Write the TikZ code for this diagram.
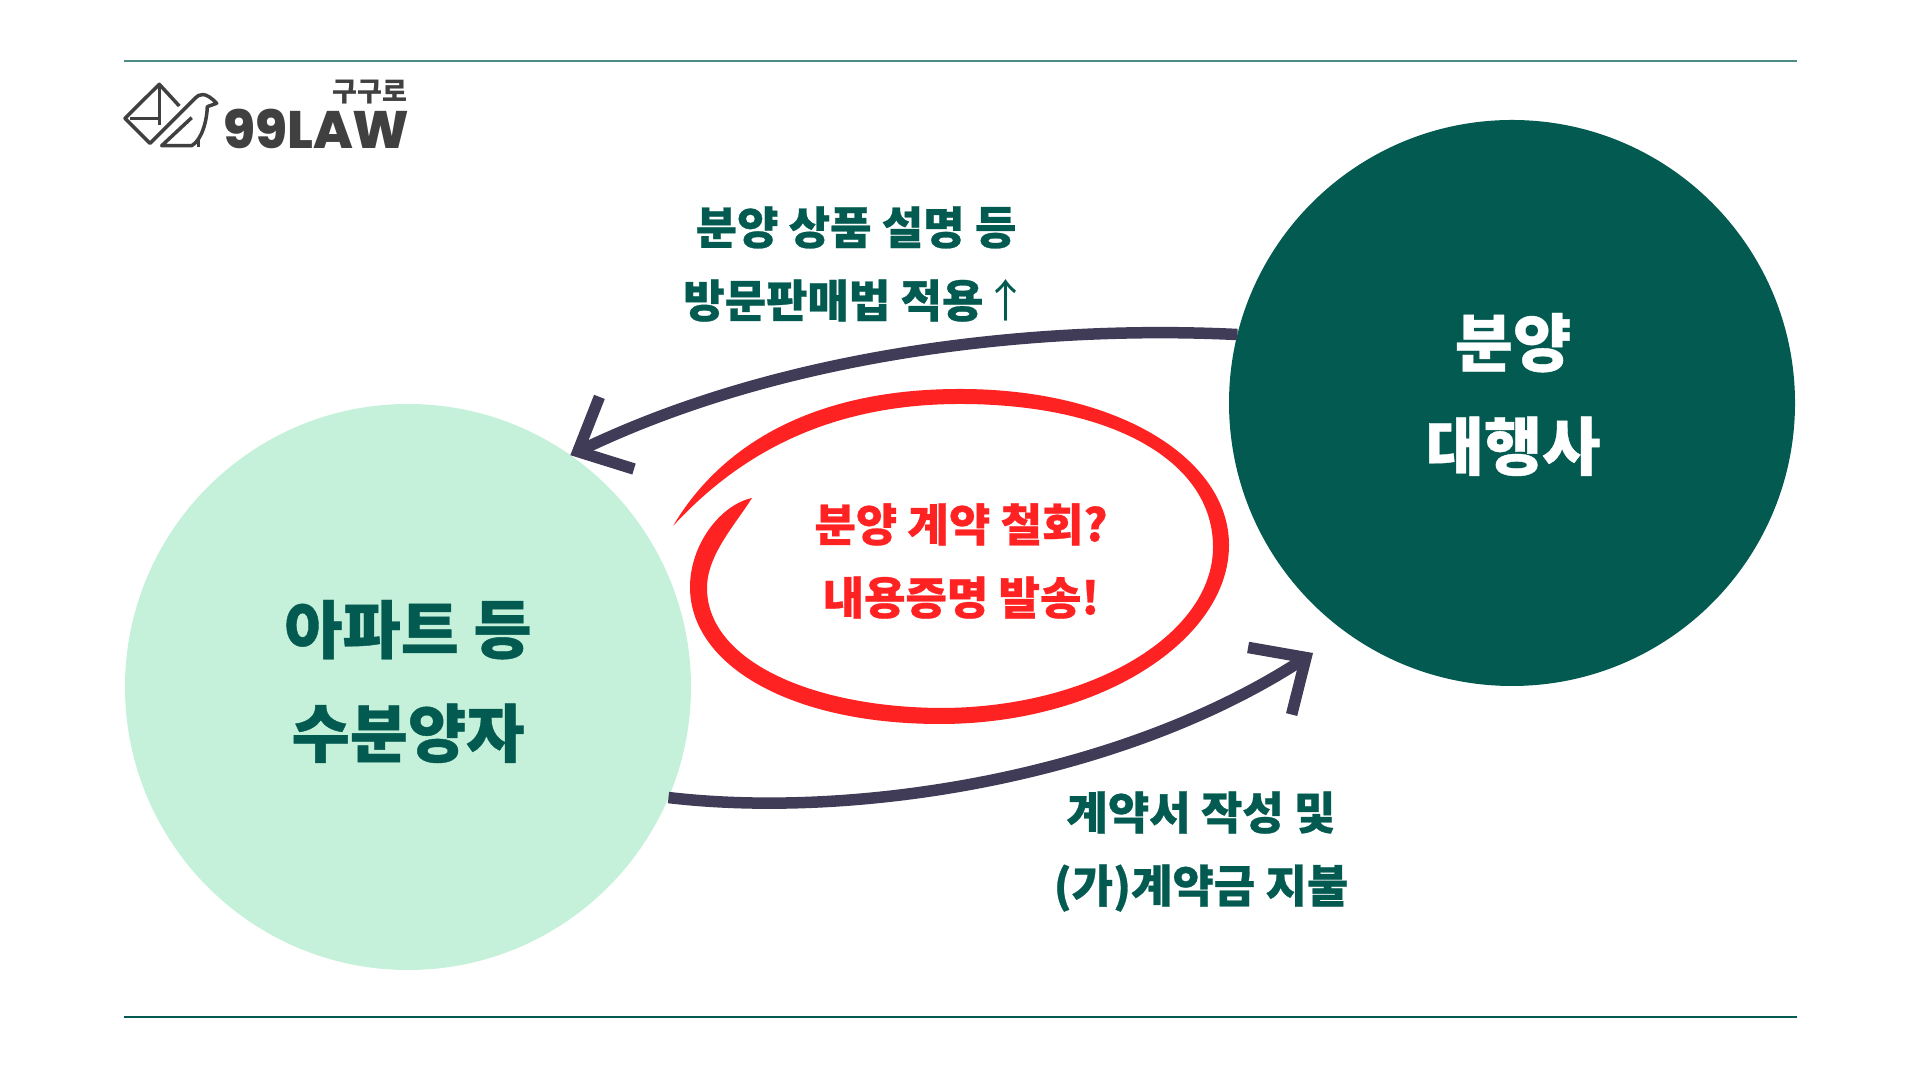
\documentclass[tikz,border=0pt]{standalone}
\usepackage{fontspec}
\setmainfont{Noto Sans CJK KR}
\newfontfamily\krblack{Noto Sans CJK KR Black}[FakeBold=0.6]
\newfontfamily\logofont{Poppins}[BoldFont={Poppins ExtraBold}]
\usetikzlibrary{arrows.meta}
\definecolor{teal}{HTML}{025A50}
\definecolor{mint}{HTML}{C5F0DA}
\definecolor{ink}{HTML}{403C58}
\definecolor{pen}{HTML}{FF2222}
\definecolor{logo}{HTML}{404040}
\tikzset{
    disc/.style = {circle,minimum size = 5.66cm,inner sep = 0pt,outer sep = 0pt},
    big/.style = {align = center,font = \krblack\fontsize{18}{29.5}\selectfont},
    small/.style = {align = center,font = \krblack\fontsize{12.8}{20.8}\selectfont},
    flow/.style = {ink,line width = 0.115cm,-{Straight Barb[length = 0.43cm,width = 0.8cm]}}
}
\begin{document}
\begin{tikzpicture}
                \useasboundingbox (0,0) rectangle (19.2,10.8);
                % frame lines
                \coordinate (TL) at (1.24,10.19);
                \coordinate (TR) at (17.97,10.19);
                \coordinate (BL) at (1.24,0.63);
                \coordinate (BR) at (17.97,0.63);
                \draw[teal!70,line width = 0.015cm] (TL) to (TR);
                \draw[teal,line width = 0.015cm] (BL) to (BR);
                % logo
                \draw[logo,line width = 0.035cm,line join = round]
                    (1.793,9.74) -- (1.593,9.957) -- (1.25,9.617) -- (1.5,9.367) -- (1.95,9.817)
                    .. controls (1.99,9.86) and (2.05,9.89) .. (2.167,9.767) -- (2.073,9.733)
                    .. controls (2.07,9.6) and (2.02,9.4) .. (1.917,9.343) -- (1.617,9.343) -- (1.917,9.623);
                \draw[logo,line width = 0.035cm] (1.593,9.957) -- (1.593,9.55);
                \draw[logo,line width = 0.035cm] (1.30,9.617) -- (1.593,9.617);
                \draw[logo,line width = 0.035cm] (1.983,9.42) -- (1.983,9.33);
                \node[logo] (LogoKr) at (3.70,9.88) {\bfseries\fontsize{7.7}{7.7}\selectfont 구구로};
                \node[logo] (LogoEn) at (3.165,9.515) {\logofont\bfseries\fontsize{15}{15}\selectfont 99LAW};
                % the two parties
                \node[disc,fill = mint] (Buyer) at (4.08,3.93) {};
                \node[disc,fill = teal] (Agency) at (15.12,6.77) {};
                \node[big,text = teal] (BuyerText) at (4.08,3.985) {아파트 등\\수분양자};
                \node[big,text = white] (AgencyText) at (15.13,6.855) {분양\\대행사};
                % connectors
                \coordinate (PayTip) at (13.13,4.27);
                \draw[flow] (Agency.166) .. controls (10.45,7.55) and (7.9,7.3) .. (Buyer.55);
                \draw[flow] (Buyer.-23) .. controls (8.6,2.6) and (11.25,3.05) .. (PayTip);
                % labels of the connectors
                \node[small,text = teal] (Sales) at (8.56,8.16) {분양 상품 설명 등\\방문판매법 적용\hspace{-0.1cm} {\mdseries\rmfamily ↑}};
                \node[small,text = teal] (Contract) at (12.01,2.285) {계약서 작성 및\\(가)계약금 지불};
                % the pen stroke
                \fill[pen] (6.73,5.54) .. controls (7.15,6.25) and (8.0,6.91) .. (9.60,6.91)
                    .. controls (11.2,6.91) and (12.29,6.2) .. (12.29,5.35)
                    .. controls (12.29,4.4) and (11.0,3.56) .. (9.40,3.56)
                    .. controls (7.9,3.56) and (6.90,4.15) .. (6.90,4.93)
                    .. controls (6.90,5.35) and (7.2,5.75) .. (7.52,5.82)
                    .. controls (7.35,5.55) and (7.07,5.25) .. (7.07,4.92)
                    .. controls (7.07,4.2) and (8.1,3.73) .. (9.40,3.72)
                    .. controls (10.9,3.72) and (12.13,4.45) .. (12.13,5.33)
                    .. controls (12.13,6.2) and (11.1,6.76) .. (9.60,6.76)
                    .. controls (8.1,6.76) and (7.25,6.1) .. (6.73,5.54) -- cycle;
                \node[small,text = pen] (Note) at (9.61,5.19) {분양 계약 철회?\\내용증명 발송!};
            \end{tikzpicture}
\end{document}
